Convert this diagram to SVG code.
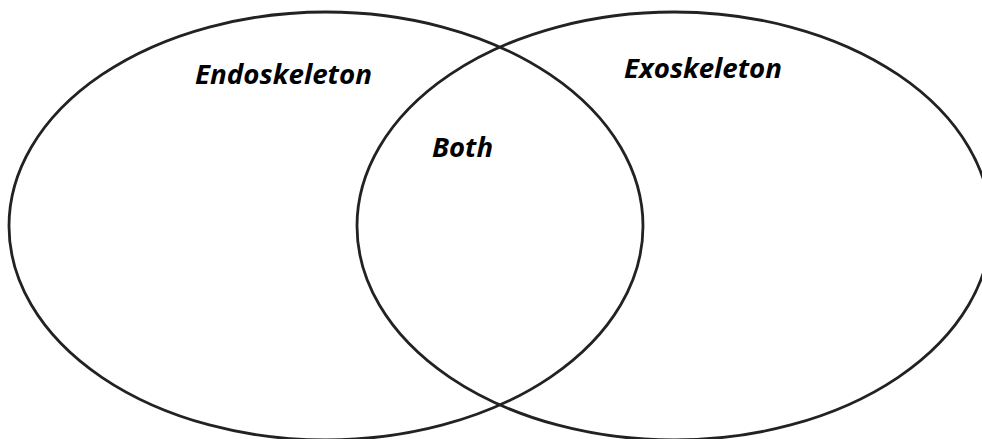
<svg xmlns="http://www.w3.org/2000/svg" width="982" height="439" viewBox="0 0 982 439">
<style>
.ring{fill:none;stroke:#222;stroke-width:2.8}
.lbl{font-family:"Open Sans","Noto Sans","Liberation Sans",sans-serif;font-weight:bold;font-style:italic;font-size:26px;fill:#000}
</style>
<rect width="982" height="439" fill="#fff"/>
<g id="endoskeleton">
<ellipse class="ring" cx="326" cy="226" rx="317" ry="214"/>
<text class="lbl" x="195" y="84" textLength="177" lengthAdjust="spacingAndGlyphs">Endoskeleton</text>
</g>
<g id="exoskeleton">
<ellipse class="ring" cx="674" cy="226" rx="317" ry="214"/>
<text class="lbl" x="624" y="78" textLength="158" lengthAdjust="spacingAndGlyphs">Exoskeleton</text>
</g>
<g id="both">
<text class="lbl" x="432" y="157" textLength="61" lengthAdjust="spacingAndGlyphs">Both</text>
</g>
</svg>
